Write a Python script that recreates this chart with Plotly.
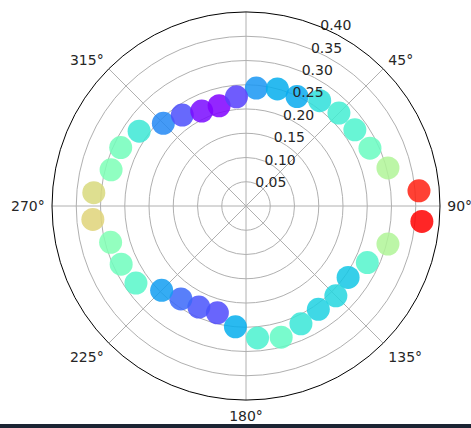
import numpy as np
import plotly.graph_objects as go

# Angular positions (degrees, clockwise from north) and radial values
theta_deg = [5, 15, 25, 35, 45, 55, 65, 75, 85, 95, 105, 115,
             125, 135, 145, 155, 165, 175, 185, 195, 205, 215, 225, 235,
             245, 255, 265, 275, 285, 295, 305, 315, 325, 335, 345, 355]
radius = [0.244, 0.250, 0.249, 0.265, 0.271, 0.274, 0.282, 0.303, 0.358, 0.364, 0.303, 0.276,
          0.257, 0.262, 0.260, 0.268, 0.280, 0.273, 0.250, 0.228, 0.230, 0.234, 0.246, 0.277,
          0.284, 0.289, 0.317, 0.315, 0.288, 0.285, 0.269, 0.241, 0.229, 0.216, 0.214, 0.226]

r_ticks = [0.05, 0.10, 0.15, 0.20, 0.25, 0.30, 0.35, 0.40]
r_tick_labels = ["0.05", "0.10", "0.15", "0.20", "0.25", "0.30", "0.35", "0.40"]
theta_ticks = [0, 45, 90, 135, 180, 225, 270, 315]
# the 0° label falls above the top edge of the page, so it is left blank
theta_tick_labels = ["", "45°", "90°", "135°", "180°", "225°", "270°", "315°"]

R_MAX = 0.40
R_LABEL_ANGLE = 22.5  # radial labels sit along this bearing


def rainbow_scale(n=21):
    # matplotlib-style "rainbow" colormap sampled into a plotly colorscale
    scale = []
    for x in np.linspace(0, 1, n):
        r = min(1.0, abs(2 * x - 0.5))
        g = np.sin(np.pi * x)
        b = np.cos(np.pi / 2 * x)
        scale.append([float(x), f"rgb({int(round(r*255))},{int(round(g*255))},{int(round(b*255))})"])
    return scale


font = dict(family="DejaVu Sans", size=14, color="#262626")
grid = "#b0b0b0"

fig = go.Figure()
fig.add_trace(go.Scatterpolar(
    r=radius,
    theta=theta_deg,
    mode="markers",
    marker=dict(
        size=23,
        color=radius,
        colorscale=rainbow_scale(),
        cmin=min(radius),
        cmax=max(radius),
        opacity=0.85,
        line=dict(width=0),
    ),
    showlegend=False,
    hoverinfo="r+theta",
))

# radial tick labels, horizontal, starting at each ring along the label bearing
fig.add_trace(go.Scatterpolar(
    r=r_ticks,
    theta=[R_LABEL_ANGLE] * len(r_ticks),
    mode="text",
    text=r_tick_labels,
    textposition="middle right",
    textfont=font,
    showlegend=False,
    hoverinfo="skip",
    cliponaxis=False,
))

fig.update_layout(
    width=471,
    height=428,
    margin=dict(l=52, r=31, t=12, b=28),
    paper_bgcolor="white",
    font=font,
    polar=dict(
        bgcolor="white",
        domain=dict(x=[0, 1], y=[0, 1]),
        radialaxis=dict(
            range=[0, R_MAX],
            tickvals=r_ticks,
            showticklabels=False,
            showline=False,
            ticks="",
            gridcolor=grid,
            gridwidth=1,
        ),
        angularaxis=dict(
            rotation=90,
            direction="clockwise",
            tickmode="array",
            tickvals=theta_ticks,
            ticktext=theta_tick_labels,
            tickfont=font,
            showline=True,
            linecolor="black",
            linewidth=1,
            gridcolor=grid,
            gridwidth=1,
            ticks="outside",
            ticklen=4,
            tickcolor="rgba(0,0,0,0)",
        ),
    ),
    shapes=[dict(
        type="rect", xref="paper", yref="paper",
        x0=-52 / 388, x1=(471 - 52) / 388,
        y0=-28 / 388, y1=-24 / 388,
        fillcolor="#1b2433", line=dict(width=0), layer="above",
    )],
)

fig.write_html("out.html")
